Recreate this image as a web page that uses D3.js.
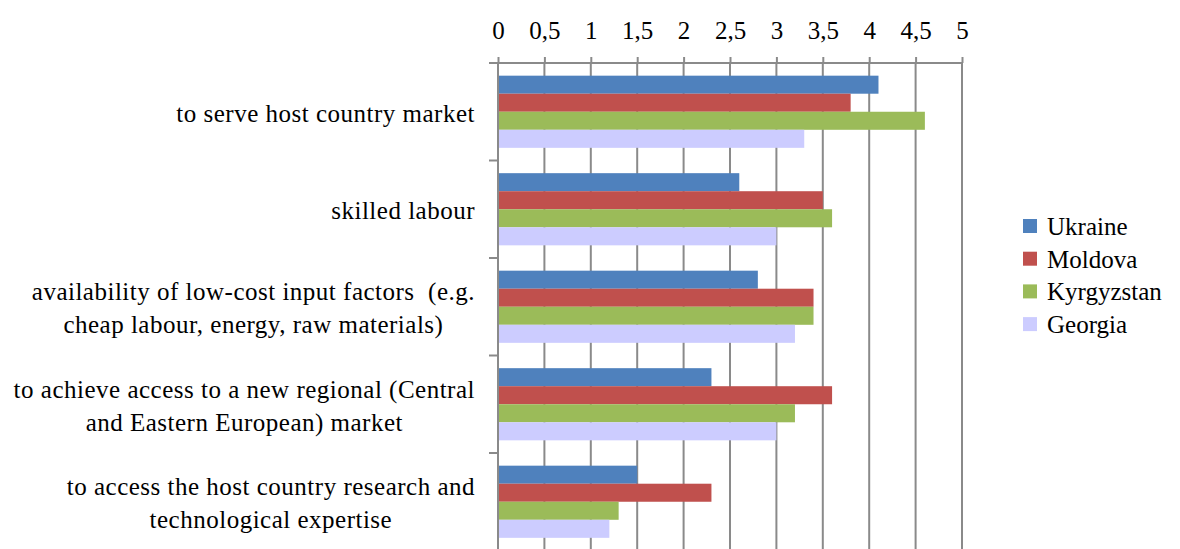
<!DOCTYPE html>
<html>
<head>
<meta charset="utf-8">
<script src="https://cdn.jsdelivr.net/npm/d3@7"></script>
<style>
  html, body { margin: 0; padding: 0; background: #fff; }
  svg text { font-family: "Liberation Serif", Tinos, "Times New Roman", "DejaVu Serif", serif !important; }
</style>
</head>
<body>
<svg id="chart" width="1180" height="549"></svg>
<script>
const categories = [
  ["to serve host country market"],
  ["skilled labour"],
  ["availability of low-cost input factors  (e.g.", "cheap labour, energy, raw materials)"],
  ["to achieve access to a new regional (Central", "and Eastern European) market"],
  ["to access the host country research and", "technological expertise"]
];
const seriesNames = ["Ukraine", "Moldova", "Kyrgyzstan", "Georgia"];
const seriesColors = ["#4F81BD", "#C0504D", "#9BBB59", "#CCCCFF"];
const ukraine    = [4.1, 2.6, 2.8, 2.3, 1.5];
const moldova    = [3.8, 3.5, 3.4, 3.6, 2.3];
const kyrgyzstan = [4.6, 3.6, 3.4, 3.2, 1.3];
const georgia    = [3.3, 3.0, 3.2, 3.0, 1.2];
const tickValues = [0, 0.5, 1, 1.5, 2, 2.5, 3, 3.5, 4, 4.5, 5];
const tickLabels = ["0", "0,5", "1", "1,5", "2", "2,5", "3", "3,5", "4", "4,5", "5"];

(function () {
const seriesValues = [ukraine, moldova, kyrgyzstan, georgia];
const svg = d3.select("#chart");

const pLeft = 498, pRight = 962, pTop = 63, pBottom = 550.5;
const x = d3.scaleLinear().domain([0, 5]).range([pLeft, pRight]);
const y0 = d3.scaleBand().domain(d3.range(categories.length)).range([pTop, pBottom])
  .paddingInner(0.26).paddingOuter(0.13);
const y1 = d3.scaleBand().domain(seriesNames).range([0, y0.bandwidth()]);
const step = y0.step();
const gridColor = "#8a8a8a";

// gridlines
svg.append("g").selectAll("line").data(tickValues.slice(1)).join("line")
  .attr("x1", d => x(d)).attr("x2", d => x(d))
  .attr("y1", pTop).attr("y2", 549)
  .attr("stroke", gridColor).attr("stroke-width", 2);

// bars
const groups = svg.append("g").selectAll("g").data(categories).join("g")
  .attr("transform", (d, i) => `translate(0,${y0(i)})`);
groups.selectAll("rect")
  .data((d, i) => seriesNames.map((s, k) => ({ s, k, v: seriesValues[k][i] })))
  .join("rect")
  .attr("x", x(0))
  .attr("y", d => y1(d.s))
  .attr("width", d => x(d.v) - x(0))
  .attr("height", y1.bandwidth())
  .attr("fill", d => seriesColors[d.k]);

// top axis
const axis = d3.axisTop(x).tickValues(tickValues)
  .tickFormat((d, i) => tickLabels[i]).tickSize(6).tickPadding(18);
const ax = svg.append("g").attr("transform", `translate(0,${pTop})`).call(axis)
  .attr("font-family", null).attr("font-size", null);
ax.select(".domain").attr("stroke", gridColor).attr("stroke-width", 2)
  .attr("d", `M${pLeft - 9},0H${pRight}`);
ax.selectAll(".tick line").attr("stroke", gridColor).attr("stroke-width", 2);
ax.selectAll(".tick text").attr("fill", "#000").style("font-size", "25px");

// left axis line
svg.append("line").attr("x1", pLeft).attr("x2", pLeft).attr("y1", pTop).attr("y2", 549)
  .attr("stroke", gridColor).attr("stroke-width", 2);
// left ticks at category boundaries
svg.append("g").selectAll("line").data(d3.range(1, categories.length)).join("line")
  .attr("x1", pLeft - 9).attr("x2", pLeft)
  .attr("y1", i => pTop + i * step).attr("y2", i => pTop + i * step)
  .attr("stroke", gridColor).attr("stroke-width", 2);

// category labels
const labelRight = 475, lineH = 33;
categories.forEach((lines, i) => {
  const cy = y0(i) + y0.bandwidth() / 2;
  const g = svg.append("g");
  const texts = lines.map((t, j) => g.append("text")
    .attr("y", cy + 10 + (j - (lines.length - 1) / 2) * lineH)
    .attr("text-anchor", "middle")
    .style("font-size", "25px").style("letter-spacing", "0.5px")
    .style("white-space", "pre")
    .attr("fill", "#000").text(t));
  const w = d3.max(texts, t => t.node().getComputedTextLength());
  texts.forEach(t => t.attr("x", labelRight - w / 2));
});

// legend
const legend = svg.append("g").selectAll("g").data(seriesNames).join("g")
  .attr("transform", (d, i) => `translate(1023,${219 + i * 32.7})`);
legend.append("rect").attr("width", 14).attr("height", 14)
  .attr("fill", (d, i) => seriesColors[i]);
legend.append("text").attr("x", 24).attr("y", 16)
  .style("font-size", "25px").attr("fill", "#000").text(d => d);
})();
</script>
</body>
</html>
